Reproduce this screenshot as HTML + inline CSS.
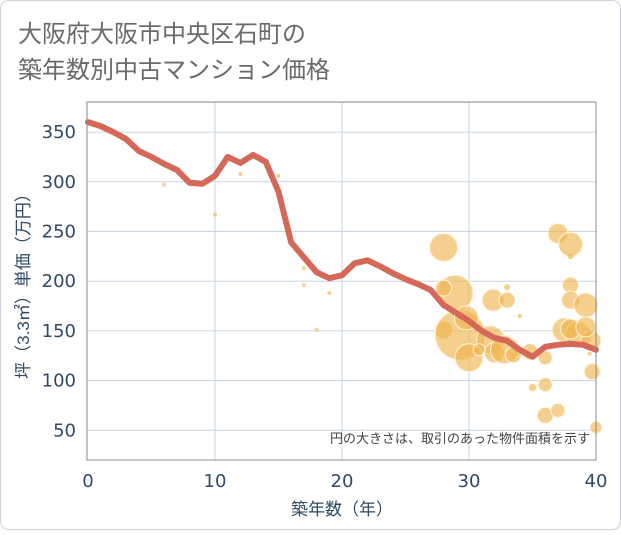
<!DOCTYPE html>
<html><head><meta charset="utf-8"><style>
body{margin:0;background:#fff;}
svg text{font-family:"Liberation Sans","Noto Sans CJK JP",sans-serif;}
svg text.tick{font-family:"DejaVu Sans","Liberation Sans",sans-serif;}
</style></head><body>
<svg width="621" height="530" viewBox="0 0 621 530" xmlns="http://www.w3.org/2000/svg">
<rect x="0.5" y="0.5" width="620" height="529" rx="8" fill="#fff" stroke="#d0d0d8"/>
<text x="18" y="42" font-size="24" fill="#6a6a6a">大阪府大阪市中央区石町の</text>
<text x="18" y="78" font-size="24" fill="#6a6a6a">築年数別中古マンション価格</text>
<g id="grid"></g>
<g id="bubbles"></g>
<path id="line" fill="none" stroke="#d4695a" stroke-width="6" stroke-linejoin="round" stroke-linecap="round"/>
<g id="axes"></g>
<text x="590" y="443" font-size="13" fill="#444" text-anchor="end">円の大きさは、取引のあった物件面積を示す</text>
<text x="342" y="515" font-size="17" fill="#2e4a66" text-anchor="middle">築年数（年）</text>
<text transform="translate(29,282) rotate(-90)" font-size="17" fill="#2e4a66" text-anchor="middle">坪（3.3㎡）単価（万円）</text>
</svg>
<script>
const xTicks=[0,10,20,30,40];
const yTicks=[50,100,150,200,250,300,350];
const lineYears=[0,1,2,3,4,5,6,7,8,9,10,11,12,13,14,15,16,17,18,19,20,21,22,23,24,25,26,27,28,29,30,31,32,33,34,35,36,37,38,39,40];
const lineValues=[360,356,350,343,331,325,318,312,299,298,306,325,319,327,320,290,239,224,209,203,206,218,221,215,208,202,197,191,176,168,160,150,143,140,131,124,134,136,137,136,131];
const bubbleYears=[6,10,12,15,17,17,18,19,28,28.9,28,31.9,33,33,34,28,29.3,29.8,31.7,32,30,30.8,32.8,33.5,34.8,36,35,36,36,37,37,38,38,38,38,39.2,37.5,38.6,39.6,38,39.2,39.7,40,39.5];
const bubbleValues=[297,267,308,306,213,196,151,188,234,188,193,181,181,194,165,151,146,163,141,128,123,131,131,126,129,123,93,96,65,70,248,237,225,196,181,176,151,146,140,152,154,109,53,127];
const bubbleSizes=[2,2,2,2,2,2,2,2,14,18,8,11,8,3,2,9,25,12,14,10,14,6,14,8,8,7,4,7,8,7,10,12,3,8,9,12,12,13,10,10,10,8,6,2];
const X=v=>88+v*12.7, Y=v=>480-v*0.994;
const ns="http://www.w3.org/2000/svg";
function mk(tag,attrs,parent){const e=document.createElementNS(ns,tag);for(const k in attrs)e.setAttribute(k,attrs[k]);parent.appendChild(e);return e;}
const grid=document.getElementById('grid'),axes=document.getElementById('axes'),bub=document.getElementById('bubbles');
yTicks.forEach(t=>{const l=mk('line',{x1:87,x2:596,y1:Y(t),y2:Y(t),stroke:'#c8d4e0','stroke-width':1},grid);


const tx=mk('text',{class:'tick',x:76,y:Y(t)+6,'font-size':18,fill:'#2e4a66','text-anchor':'end'},axes);tx.textContent=t;

});
xTicks.forEach(t=>{if(t>0&&t<40){const l=mk('line',{x1:X(t),x2:X(t),y1:102,y2:460,stroke:'#c8d4e0','stroke-width':1},grid);

}
const tx=mk('text',{class:'tick',x:X(t),y:487,'font-size':18,fill:'#2e4a66','text-anchor':'middle'},axes);tx.textContent=t;

});
const fr=mk('rect',{x:87,y:102,width:509,height:358,fill:'none',stroke:'#888','stroke-width':1},axes);


bubbleYears.forEach((yr,i)=>{const c=mk('circle',{cx:X(yr),cy:Y(bubbleValues[i]),r:bubbleSizes[i],fill:'#f0b550','fill-opacity':0.65,stroke:'#fff5e0','stroke-width':bubbleSizes[i]>3?1:0},bub);

});
document.getElementById('line').setAttribute('d',lineYears.map((y,i)=>(i?'L':'M')+X(y)+','+Y(lineValues[i])).join(''));
</script>
</body></html>
